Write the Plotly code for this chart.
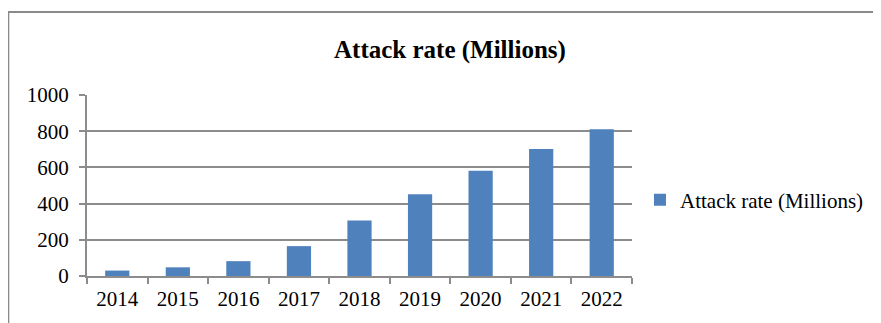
import plotly.graph_objects as go

years = ["2014", "2015", "2016", "2017", "2018", "2019", "2020", "2021", "2022"]
attack_rate = [30, 48, 82, 165, 307, 452, 581, 701, 811]
series_name = "Attack rate (Millions)"
title_text = "Attack rate (Millions)"
y_ticks = [0, 200, 400, 600, 800, 1000]

OFF = 8  # default page body margin
W, H = 881 - OFF, 323 - OFF
L, R, T, B = 87 - OFF, 255 - OFF, 95 - OFF, 47
pw, ph = W - L - R, H - T - B

def px_x(p):
    return (p - OFF - L) / pw

def px_y(p):
    return (H - B - (p - OFF)) / ph

fig = go.Figure()
fig.add_trace(go.Bar(
    x=years, y=attack_rate, name=series_name,
    marker=dict(color="#4F81BD", line=dict(width=0)),
))

font = "Liberation Serif"
grid = "#8c8c8c"
fs = 21

fig.update_layout(
    width=W, height=H,
    margin=dict(l=L, r=R, t=T, b=B),
    paper_bgcolor="white", plot_bgcolor="white",
    font=dict(family=font, size=fs, color="black"),
    bargap=0.6,
    showlegend=True,
    legend=dict(x=px_x(642), y=px_y(200), xanchor="left", yanchor="middle",
                font=dict(size=fs, family=font), itemwidth=30, bgcolor="rgba(0,0,0,0)"),
    xaxis=dict(type="category", showgrid=False, showline=True, linecolor=grid, linewidth=2,
               ticks="outside", tickson="boundaries", ticklen=6, tickcolor=grid, tickwidth=2,
               tickfont=dict(size=fs, family=font), ticklabelstandoff=3, fixedrange=True),
    yaxis=dict(range=[0, 1000], tickvals=y_ticks, showgrid=True, gridcolor=grid, gridwidth=1.5,
               showline=True, linecolor=grid, linewidth=2, ticks="outside", ticklen=6,
               tickcolor=grid, tickwidth=2, tickfont=dict(size=fs, family=font), zeroline=False,
               ticklabelstandoff=6, fixedrange=True),
    annotations=[dict(text="<b>" + title_text + "</b>", x=px_x(451), y=px_y(50),
                      xref="paper", yref="paper", showarrow=False,
                      xanchor="center", yanchor="middle",
                      font=dict(size=25, family=font, color="black"))],
    shapes=[dict(type="rect", xref="paper", yref="paper",
                 x0=px_x(8), x1=px_x(900), y0=px_y(340), y1=px_y(12),
                 line=dict(color="#8a8a8a", width=2), fillcolor="rgba(0,0,0,0)",
                 layer="below")],
)

fig.write_html("out.html")
